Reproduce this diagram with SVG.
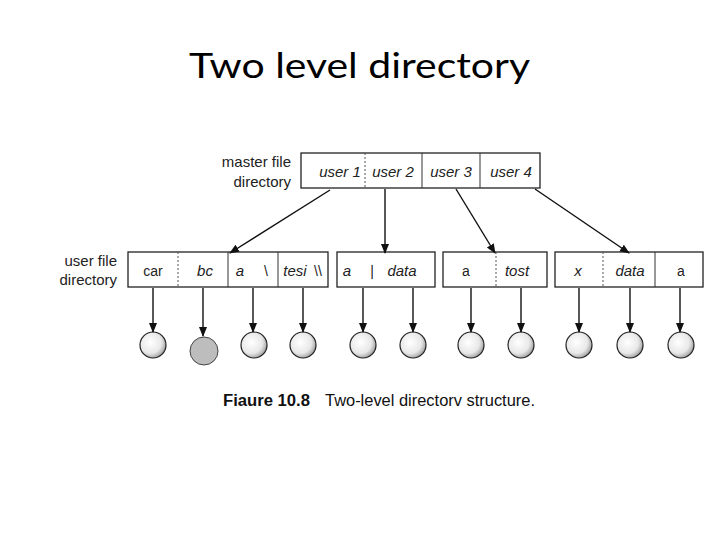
<svg xmlns="http://www.w3.org/2000/svg" width="720" height="540" viewBox="0 0 720 540">
<defs>
<marker id="ah" markerWidth="10" markerHeight="10" refX="9" refY="5" orient="auto" markerUnits="userSpaceOnUse">
<path d="M0,1 L10,5 L0,9 Z" fill="#111"/>
</marker>
<radialGradient id="ball" cx="0.4" cy="0.4" r="0.7">
<stop offset="0" stop-color="#fff"/>
<stop offset="0.6" stop-color="#e8e8e8"/>
<stop offset="1" stop-color="#888"/>
</radialGradient>
</defs>
<style>
.box{fill:#fff;stroke:#222;stroke-width:1.3}
.div{stroke:#333;stroke-width:1}
.dash{stroke:#555;stroke-width:1;stroke-dasharray:2,2}
.lbl{font-family:"Liberation Sans",Arial,sans-serif;font-size:15px;fill:#222}
.cell{font-family:"Liberation Sans",Arial,sans-serif;font-size:15px;font-style:italic;fill:#222;text-anchor:middle}
.cellu{font-family:"Liberation Sans",Arial,sans-serif;font-size:14px;fill:#222;text-anchor:middle}
.conn line{stroke:#111;stroke-width:1.4;marker-end:url(#ah)}
.leaf{fill:url(#ball);stroke:#222;stroke-width:1.2}
</style>
<rect width="720" height="540" fill="#fff"/>
<text x="189" y="78" font-family="Lato,'Open Sans',sans-serif" font-size="35" fill="#000" textLength="341" lengthAdjust="spacingAndGlyphs">Two level directory</text>

<g id="master">
<text class="lbl" x="291" y="167" text-anchor="end">master file</text>
<text class="lbl" x="291" y="187" text-anchor="end">directory</text>
<rect class="box" x="301" y="153" width="239" height="35"/>
<line class="dash" x1="365" y1="153" x2="365" y2="188"/>
<line class="div" x1="422" y1="153" x2="422" y2="188"/>
<line class="div" x1="480" y1="153" x2="480" y2="188"/>
<text class="cell" x="340" y="177">user 1</text>
<text class="cell" x="393" y="177">user 2</text>
<text class="cell" x="451" y="177">user 3</text>
<text class="cell" x="511" y="177">user 4</text>
</g>

<g id="ufd-label">
<text class="lbl" x="117" y="266" text-anchor="end">user file</text>
<text class="lbl" x="117" y="285" text-anchor="end">directory</text>
</g>

<g id="ufd1">
<rect class="box" x="128" y="252" width="200" height="35"/>
<line class="dash" x1="178" y1="252" x2="178" y2="287"/>
<line class="div" x1="228" y1="252" x2="228" y2="287"/>
<line class="div" x1="278" y1="252" x2="278" y2="287"/>
<text class="cellu" x="153" y="276">car</text>
<text class="cell" x="205" y="276">bc</text>
<text class="cell" x="240" y="276">a</text>
<text class="cellu" x="266" y="276">\</text>
<text class="cell" x="295" y="276">tesi</text>
<text class="cellu" x="318" y="276">\\</text>
</g>

<g id="ufd2">
<rect class="box" x="337" y="252" width="98" height="35"/>
<text class="cell" x="347" y="276">a</text>
<text class="cellu" x="372" y="276">|</text>
<text class="cell" x="402" y="276">data</text>
</g>

<g id="ufd3">
<rect class="box" x="443" y="252" width="104" height="35"/>
<line class="dash" x1="496" y1="252" x2="496" y2="287"/>
<text class="cellu" x="466" y="276">a</text>
<text class="cell" x="517" y="276">tost</text>
</g>

<g id="ufd4">
<rect class="box" x="555" y="252" width="148" height="35"/>
<line class="dash" x1="603" y1="252" x2="603" y2="287"/>
<line class="div" x1="655" y1="252" x2="655" y2="287"/>
<text class="cell" x="578" y="276">x</text>
<text class="cell" x="630" y="276">data</text>
<text class="cellu" x="681" y="276">a</text>
</g>

<g id="files">
<circle class="leaf" cx="153" cy="345" r="13"/>
<circle cx="204" cy="351" r="14" fill="#bdbdbd" stroke="#444" stroke-width="1"/>
<circle class="leaf" cx="254" cy="345" r="13"/>
<circle class="leaf" cx="303" cy="345" r="13"/>
<circle class="leaf" cx="363" cy="345" r="13"/>
<circle class="leaf" cx="413" cy="345" r="13"/>
<circle class="leaf" cx="471" cy="345" r="13"/>
<circle class="leaf" cx="521" cy="345" r="13"/>
<circle class="leaf" cx="579" cy="345" r="13"/>
<circle class="leaf" cx="630" cy="345" r="13"/>
<circle class="leaf" cx="681" cy="345" r="13"/>
</g>

<g id="connectors" class="conn">
<line x1="330" y1="190" x2="230" y2="253"/>
<line x1="385" y1="189" x2="385" y2="253"/>
<line x1="456" y1="189" x2="495" y2="253"/>
<line x1="535" y1="189" x2="629" y2="253"/>
<line x1="153" y1="288" x2="153" y2="332"/>
<line x1="203" y1="288" x2="203" y2="336"/>
<line x1="253" y1="288" x2="253" y2="332"/>
<line x1="303" y1="288" x2="303" y2="332"/>
<line x1="363" y1="288" x2="363" y2="332"/>
<line x1="413" y1="288" x2="413" y2="332"/>
<line x1="471" y1="288" x2="471" y2="332"/>
<line x1="521" y1="288" x2="521" y2="332"/>
<line x1="579" y1="288" x2="579" y2="332"/>
<line x1="630" y1="288" x2="630" y2="332"/>
<line x1="680" y1="288" x2="680" y2="332"/>
</g>

<g id="caption">
<text x="223" y="406" font-family="'Liberation Sans',Arial,sans-serif" font-size="16" font-weight="bold" fill="#111" textLength="87" lengthAdjust="spacingAndGlyphs">Fiaure 10.8</text>
<text x="325" y="406" font-family="'Liberation Sans',Arial,sans-serif" font-size="16.5" fill="#111" textLength="210" lengthAdjust="spacingAndGlyphs">Two-level directorv structure.</text>
</g>
</svg>
